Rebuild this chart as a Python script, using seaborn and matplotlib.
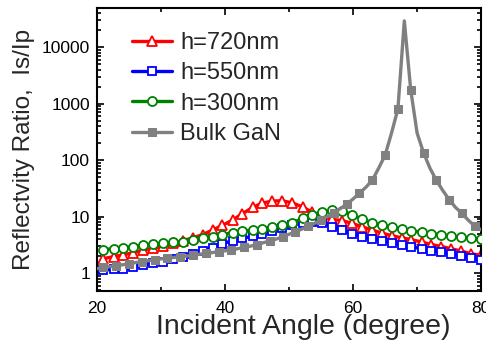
import numpy as np
import matplotlib
matplotlib.use("Agg")
import matplotlib.pyplot as plt
import matplotlib.ticker as mticker
import seaborn as sns

# angles (deg) of the thin-film curves
angle_h = [21.0, 22.6, 24.1, 25.7, 27.2, 28.8, 30.3, 31.9, 33.4, 35.0,
           36.5, 38.1, 39.6, 41.2, 42.7, 44.3, 45.8, 47.4, 48.9, 50.5,
           52.1, 53.6, 55.2, 56.7, 58.3, 59.8, 61.4, 62.9, 64.5, 66.0,
           67.6, 69.1, 70.7, 72.2, 73.8, 75.3, 76.9, 78.4, 80.0]

h720 = [1.8, 1.95, 2.1, 2.3, 2.55, 2.75, 3.0, 3.35, 3.75, 4.2,
        4.8, 5.8, 7.0, 8.7, 11.2, 14.5, 17.3, 18.8, 19.0, 17.5,
        14.8, 12.0, 9.9, 8.9, 8.5, 7.6, 6.6, 5.8, 5.1, 4.6,
        4.2, 3.9, 3.55, 3.2, 2.95, 2.7, 2.45, 2.2, 2.05]

h550 = [1.12, 1.17, 1.2, 1.28, 1.38, 1.48, 1.6, 1.75, 1.95, 2.2,
        2.45, 2.8, 3.3, 3.75, 4.1, 4.5, 5.0, 5.6, 6.2, 7.0,
        7.7, 8.1, 7.6, 6.6, 5.7, 5.0, 4.4, 4.05, 3.75, 3.45,
        3.15, 2.9, 2.7, 2.5, 2.35, 2.17, 2.02, 1.88, 1.72]

h300 = [2.6, 2.7, 2.8, 2.95, 3.1, 3.25, 3.35, 3.5, 3.6, 3.85,
        4.1, 4.4, 4.8, 5.2, 5.5, 5.8, 6.1, 6.5, 7.0, 7.7,
        9.3, 10.8, 12.0, 13.0, 12.6, 10.8, 9.0, 7.8, 7.0, 6.4,
        5.95, 5.6, 5.3, 5.0, 4.75, 4.5, 4.3, 4.1, 3.95]

# bulk GaN, one point per degree 20..80
angle_bulk = list(range(20, 81))
bulk = [1.2, 1.26, 1.3, 1.35, 1.4, 1.47, 1.53, 1.6, 1.66, 1.72,
        1.78, 1.83, 1.89, 1.95, 2.0, 2.07, 2.15, 2.22, 2.3, 2.4,
        2.48, 2.58, 2.7, 2.85, 3.0, 3.2, 3.45, 3.7, 4.0, 4.4,
        4.85, 5.4, 6.0, 6.8, 7.6, 8.8, 10.0, 11.6, 13.8, 16.5,
        20.5, 26.0, 33.0, 44.0, 72.0, 122.0, 300.0, 800.0, 29000.0, 1750.0,
        300.0, 135.0, 72.0, 44.0, 29.0, 20.0, 14.5, 11.4, 8.6, 6.8,
        5.8]

sns.set_style("ticks")
plt.rcParams['font.family'] = ['Liberation Sans', 'DejaVu Sans']

fig = plt.figure(figsize=(4.86, 3.49), dpi=100)
ax = fig.add_axes([0.1996, 0.166, 0.7904, 0.811])

lw = 2.4
sns.lineplot(x=angle_h, y=h720, ax=ax, color='#ff0000', lw=lw, marker='^',
             markersize=7, markerfacecolor='white', markeredgecolor='#ff0000',
             markeredgewidth=1.3, label='h=720nm', zorder=2)
sns.lineplot(x=angle_h, y=h550, ax=ax, color='#0000ff', lw=lw, marker='s',
             markersize=5.5, markerfacecolor='white', markeredgecolor='#0000ff',
             markeredgewidth=1.3, label='h=550nm', zorder=3)
sns.lineplot(x=angle_h, y=h300, ax=ax, color='#008000', lw=lw, marker='o',
             markersize=6.5, markerfacecolor='white', markeredgecolor='#008000',
             markeredgewidth=1.3, label='h=300nm', zorder=4)
sns.lineplot(x=angle_bulk, y=bulk, ax=ax, color='#808080', lw=lw, marker='s',
             markersize=5.5, markerfacecolor='#808080', markeredgecolor='#808080',
             markevery=slice(1, None, 2), label='Bulk GaN', zorder=5)

ax.set_yscale('log')
ax.set_xlim(20, 80)
ax.set_ylim(0.48, 49000)

ax.xaxis.set_major_locator(mticker.MultipleLocator(20))
ax.xaxis.set_minor_locator(mticker.MultipleLocator(10))
ax.yaxis.set_major_locator(mticker.LogLocator(base=10, numticks=10))
ax.yaxis.set_minor_locator(mticker.LogLocator(base=10, subs=np.arange(2, 10), numticks=10))
ax.yaxis.set_major_formatter(mticker.FuncFormatter(lambda v, p: f'{v:g}' if v >= 1 else ''))
ax.yaxis.set_minor_formatter(mticker.NullFormatter())

ax.tick_params(which='both', direction='in', top=True, right=True, colors='black',
               labelsize=12.5, width=1.2)
ax.tick_params(which='major', length=5)
ax.tick_params(which='minor', length=3)
ax.tick_params(axis='x', which='major', pad=7)
ax.tick_params(axis='y', which='major', pad=5)
for s in ax.spines.values():
    s.set_linewidth(1.5)
    s.set_color('black')

ax.set_xlabel('Incident Angle (degree)', fontsize=20.5, labelpad=-1)
ax.xaxis.label.set_x(0.538)
ax.set_ylabel('Reflectvity Ratio,  Is/Ip', fontsize=17.5, labelpad=5)

leg = ax.legend(loc='upper left', bbox_to_anchor=(0.067, 0.948), frameon=False,
                fontsize=17, handlelength=1.7, handletextpad=0.34,
                labelspacing=0.35, borderaxespad=0)

fig.savefig('out.png', dpi=100)
